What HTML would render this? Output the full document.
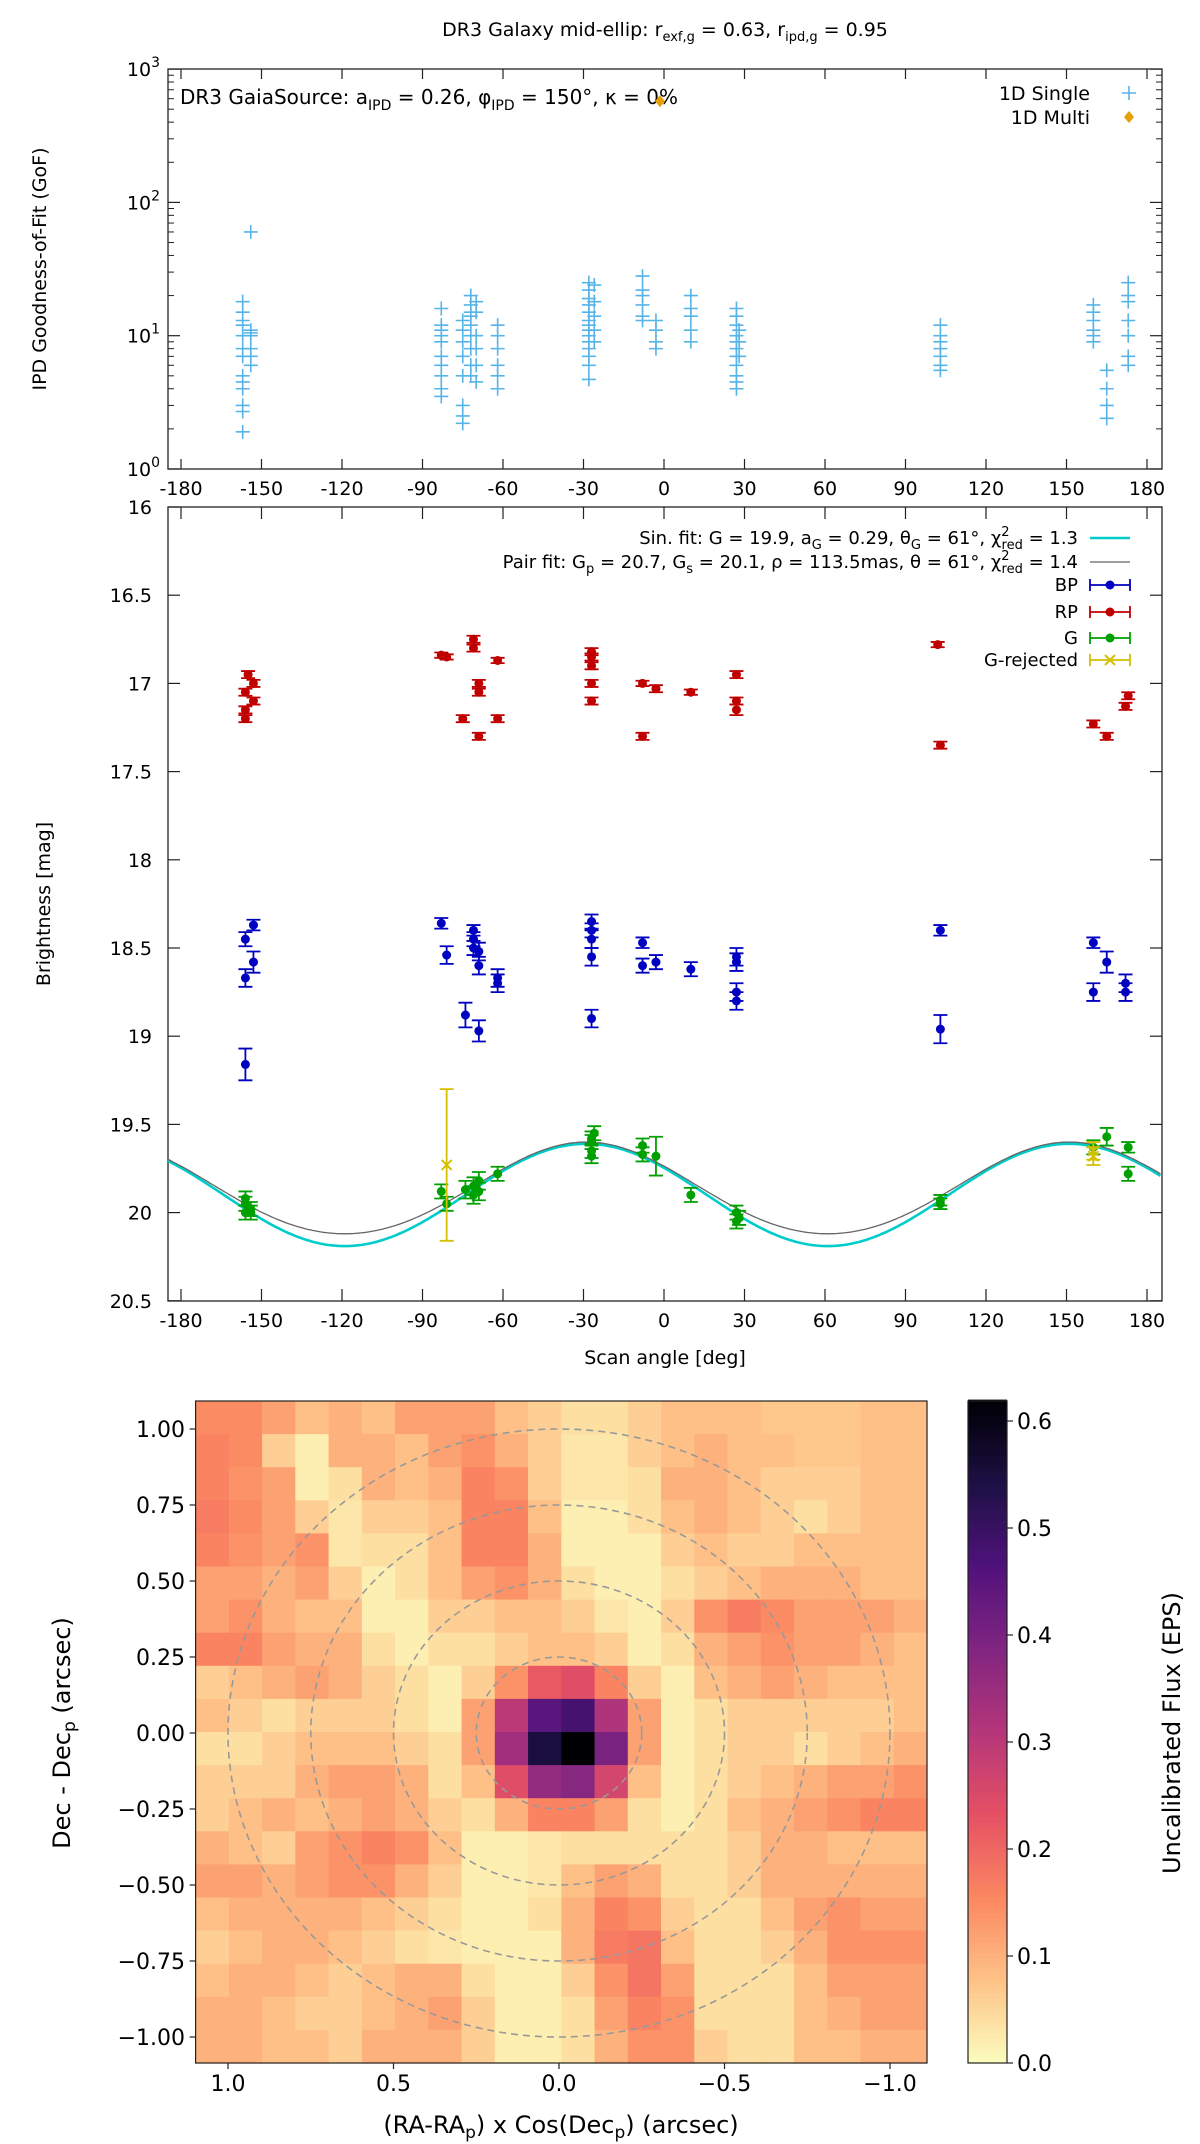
<!DOCTYPE html>
<html><head><meta charset="utf-8"><style>
html,body{margin:0;padding:0;background:#fff;}
svg{display:block;font-family:"DejaVu Sans","Liberation Sans",sans-serif;}
</style></head><body>
<svg id="fig" width="1200" height="2144" viewBox="0 0 1200 2144" xmlns="http://www.w3.org/2000/svg">
<text x="665" y="36" font-size="19" text-anchor="middle">DR3 Galaxy mid-ellip: r<tspan font-size="13" dy="5">exf,g</tspan><tspan dy="-5"> = 0.63, r</tspan><tspan font-size="13" dy="5">ipd,g</tspan><tspan dy="-5"> = 0.95</tspan></text>
<g id="p1"></g>
<g id="p2"></g>
<g id="p3"></g>
</svg>
<script>
// ---------- Panel 1 data (IPD GoF) ----------
const gofAngle = [-157,-157,-157,-157,-157,-157,-157,-157,-157,-157,-157,-157,-157,
 -154,-154,-154,-154,-154,-154,-154,
 -83,-83,-83,-83,-83,-83,-83,-83,-83,-83,
 -75,-75,-75,-75,-75,-75,-75,-75,
 -72,-72,-72,-72,-72,-72,-72,-72,-72,
 -70,-70,-70,-70,-70,-70,
 -62,-62,-62,-62,-62,-62,
 -28,-28,-28,-28,-28,-28,-28,-28,-28,-28,-28,-28,-28,-28,
 -26,-26,-26,-26,-26,
 -8,-8,-8,-8,-8,-8,
 -3,-3,-3,-3,
 10,10,10,10,10,
 27,27,27,27,27,27,27,27,27,27,27,
 28,28,28,
 103,103,103,103,103,103,103,
 160,160,160,160,160,160,
 165,165,165,165,
 173,173,173,173,173,173,173];
const gofValue = [18,15,13,12,10,8,7,5,4.5,4,3,2.7,1.9,
 60,11,10.5,10,8,7,6,
 16,12,11,10,9,7,6,5,4,3.5,
 13,11,9,7,5,3,2.5,2.2,
 20,17,15,14,12,10,8,6,5,
 18,15,10,8,6,4.5,
 12,10,8,6,5,4,
 25,22,19,17,15,13,12,11,10,9,8,7,6,4.7,
 24,18,14,11,9,
 28,22,20,17,14,13,
 13,11,9,8,
 20,16,14,11,9,
 16,14,12,10,9,8,7,6,5,4.5,4,
 11,9,7,
 12,10,9,8,7,6,5.5,
 17,15,13,11,10,9,
 5.5,4,3,2.4,
 25,20,18,13,10,7,6];
const multiAngle = [-1.5];
const multiValue = [575];
const xTicks = [-180,-150,-120,-90,-60,-30,0,30,60,90,120,150,180];
const gofDecades = [0,1,2,3];
// ---------- Panel 2 data (brightness) ----------
const rpAngle = [-156,-156,-156,-155,-153,-153,-83,-81,-75,-71,-71,-69,-69,-69,-62,-62,-27,-27,-27,-27,-27,-8,-8,-3,10,27,27,27,102,103,160,165,172,173];
const rpMag   = [17.05,17.15,17.2,16.95,17.0,17.1,16.84,16.85,17.2,16.75,16.8,17.0,17.05,17.3,16.87,17.2,16.82,16.85,16.9,17.0,17.1,17.0,17.3,17.03,17.05,16.95,17.1,17.15,16.78,17.35,17.23,17.3,17.13,17.07];
const rpErr   = [0.02,0.02,0.02,0.02,0.02,0.02,0.015,0.015,0.02,0.02,0.02,0.02,0.02,0.02,0.015,0.02,0.02,0.02,0.02,0.02,0.02,0.015,0.02,0.02,0.015,0.02,0.02,0.03,0.015,0.02,0.02,0.02,0.02,0.02];
const bpAngle = [-156,-156,-156,-153,-153,-83,-81,-74,-71,-71,-71,-69,-69,-69,-62,-62,-27,-27,-27,-27,-27,-8,-8,-3,10,27,27,27,27,103,103,160,160,165,172,172];
const bpMag   = [18.45,18.67,19.16,18.37,18.58,18.36,18.54,18.88,18.4,18.45,18.5,18.52,18.6,18.97,18.67,18.7,18.35,18.4,18.45,18.55,18.9,18.47,18.6,18.58,18.62,18.55,18.58,18.75,18.8,18.4,18.96,18.47,18.75,18.58,18.7,18.75];
const bpErr   = [0.04,0.05,0.09,0.03,0.06,0.03,0.05,0.07,0.03,0.04,0.04,0.05,0.05,0.06,0.05,0.05,0.04,0.04,0.05,0.05,0.05,0.03,0.04,0.04,0.04,0.05,0.05,0.05,0.05,0.03,0.08,0.03,0.05,0.06,0.05,0.05];
const gAngle = [-156,-156,-156,-154,-154,-83,-81,-74,-71,-71,-69,-69,-62,-27,-27,-27,-27,-26,-8,-8,-3,10,27,27,28,103,103,160,165,173,173];
const gMag   = [19.92,19.95,20.0,19.98,20.0,19.88,19.95,19.87,19.85,19.9,19.82,19.88,19.78,19.58,19.6,19.65,19.68,19.55,19.62,19.67,19.68,19.9,20.0,20.05,20.03,19.93,19.95,19.63,19.57,19.63,19.78];
const gErr   = [0.04,0.04,0.04,0.04,0.04,0.04,0.04,0.05,0.05,0.05,0.05,0.05,0.04,0.04,0.04,0.04,0.04,0.04,0.04,0.04,0.11,0.04,0.04,0.04,0.04,0.03,0.03,0.04,0.05,0.03,0.04];
const grAngle = [-81,160,160];
const grMag   = [19.73,19.65,19.68];
const grErr   = [0.43,0.05,0.05];
const magTicks = [16,16.5,17,17.5,18,18.5,19,19.5,20,20.5];
const sinParams = [19.9,0.29,61];      // G, a_G, theta_G
const pairParams = [19.87,0.26,0.01,61];
// ---------- Panel 3 data (heatmap, flux x100) ----------
const fluxRows = [
 [15,15,12,8,10,8,12,12,12,8,6,4,4,6,8,8,8,7,7,7,8,8],
 [16,15,6,2,10,10,8,12,14,10,6,3,3,6,8,10,8,8,7,7,8,8],
 [16,14,12,2,4,10,8,10,16,14,6,3,3,4,10,10,8,6,6,6,8,8],
 [17,15,12,6,3,6,6,8,16,16,8,2,2,4,8,10,8,6,4,6,8,8],
 [16,14,12,14,3,4,4,8,16,16,10,2,2,2,6,8,6,6,8,8,8,8],
 [12,12,10,12,6,2,4,8,12,14,10,4,2,2,4,6,8,10,10,10,8,8],
 [12,14,10,8,8,2,2,6,6,8,8,6,3,2,6,14,17,15,12,12,12,10],
 [16,16,12,10,10,4,2,4,4,6,8,8,6,2,4,10,12,14,12,12,10,8],
 [6,8,10,12,10,6,4,2,6,14,22,24,16,6,2,8,10,12,10,8,8,8],
 [8,6,4,6,6,6,4,2,12,30,45,48,32,12,2,4,6,6,6,6,6,8],
 [4,4,6,8,8,8,6,4,12,34,55,62,40,12,2,4,6,6,4,6,8,10],
 [6,6,6,10,12,12,10,4,8,24,36,38,26,8,2,4,6,8,10,12,12,14],
 [6,8,10,8,10,12,10,6,4,10,16,16,12,4,2,4,8,10,12,14,16,16],
 [10,8,6,12,14,16,14,8,2,2,3,4,4,4,4,4,6,10,10,8,8,8],
 [12,12,10,12,14,14,10,6,2,2,3,8,12,10,4,4,6,10,10,10,10,10],
 [8,10,10,10,10,8,6,4,2,2,4,10,16,14,6,4,4,8,12,14,12,12],
 [6,8,10,10,8,6,4,3,2,2,2,10,17,18,8,4,4,6,10,14,14,14],
 [8,10,10,8,6,8,10,10,4,2,2,6,14,18,12,4,4,4,8,12,12,12],
 [10,10,8,6,6,8,10,12,6,2,2,4,12,16,14,4,4,4,8,10,12,12],
 [10,10,8,8,6,10,10,10,6,2,2,4,10,14,14,6,4,4,8,8,10,10]];
const hxTicks = [1.0,0.5,0.0,-0.5,-1.0];
const hxLabels = ["1.0","0.5","0.0","\u22120.5","\u22121.0"];
const hyTicks = [1.0,0.75,0.5,0.25,0,-0.25,-0.5,-0.75,-1.0];
const hyLabels = ["1.00","0.75","0.50","0.25","0.00","\u22120.25","\u22120.50","\u22120.75","\u22121.00"];
const cbTicks = [0,0.1,0.2,0.3,0.4,0.5,0.6];
const ringRadii = [0.25,0.5,0.75,1.0];

const NS="http://www.w3.org/2000/svg";
function mk(parent,tag,attrs,text){const e=document.createElementNS(NS,tag);for(const k in attrs)e.setAttribute(k,attrs[k]);if(text!==undefined)e.textContent=text;parent.appendChild(e);return e;}

const X0=181, XS=966/360;
const xA=a=>X0+(a+180)*XS;
const yG=v=>469-Math.log10(v)*133.3;
const yM=m=>507+(m-16)*176.4;

// ===== Panel 1 =====
const p1=document.getElementById('p1');
let r=mk(p1,'rect',{x:168,y:69,width:994,height:400,fill:'none',stroke:'#222','stroke-width':1.3});


xTicks.forEach(t=>{
 const x=xA(t);
 let l=mk(p1,'line',{x1:x,x2:x,y1:469,y2:459,stroke:'#222','stroke-width':1.2});
 
 
 mk(p1,'line',{x1:x,x2:x,y1:69,y2:79,stroke:'#222','stroke-width':1.2});
 let tx=mk(p1,'text',{x:x,y:495,'font-size':19,'text-anchor':'middle'},String(t));
 
 
});
gofDecades.forEach(d=>{
 const y=yG(Math.pow(10,d));
 mk(p1,'line',{x1:168,x2:180,y1:y,y2:y,stroke:'#222','stroke-width':1.2});
 mk(p1,'line',{x1:1162,x2:1150,y1:y,y2:y,stroke:'#222','stroke-width':1.2});
 if(d<3){for(let k=2;k<10;k++){const yy=yG(k*Math.pow(10,d));mk(p1,'line',{x1:168,x2:174,y1:yy,y2:yy,stroke:'#222','stroke-width':1});mk(p1,'line',{x1:1162,x2:1156,y1:yy,y2:yy,stroke:'#222','stroke-width':1});}}
 const t=mk(p1,'text',{x:160,y:y+7,'font-size':19,'text-anchor':'end'});
 
 
 mk(t,'tspan',{},'10');mk(t,'tspan',{dy:-9,'font-size':14},String(d));
});
let yl=mk(p1,'text',{transform:'translate(46,269) rotate(-90)','font-size':19,'text-anchor':'middle'},'IPD Goodness-of-Fit (GoF)');


let ann=mk(p1,'text',{x:180,y:104,'font-size':20});


ann.innerHTML='DR3 GaiaSource: a<tspan font-size="14" dy="6">IPD</tspan><tspan dy="-6"> = 0.26, φ</tspan><tspan font-size="14" dy="6">IPD</tspan><tspan dy="-6"> = 150°, κ = 0%</tspan>';
function plus(g,x,y,s,c){mk(g,'path',{d:`M${x-s},${y}H${x+s}M${x},${y-s}V${y+s}`,stroke:c,'stroke-width':1.6,fill:'none'});}
const gp=mk(p1,'g',{});


gofAngle.forEach((a,i)=>plus(gp,xA(a),yG(gofValue[i]),7,'#56b4e9'));
multiAngle.forEach((a,i)=>{const x=xA(a),y=yG(multiValue[i]);let d=mk(p1,'path',{d:`M${x},${y-6}L${x+5},${y}L${x},${y+6}L${x-5},${y}Z`,fill:'#e69f00'});
 
 });
let le1=mk(p1,'text',{x:1090,y:100,'font-size':19,'text-anchor':'end'},'1D Single');


plus(p1,1129,93,7,'#56b4e9');
let le2=mk(p1,'text',{x:1090,y:124,'font-size':19,'text-anchor':'end'},'1D Multi');


mk(p1,'path',{d:'M1129,111L1134,117L1129,123L1124,117Z',fill:'#e69f00'});

// ===== Panel 2 =====
const p2=document.getElementById('p2');
r=mk(p2,'rect',{x:168,y:507,width:994,height:794,fill:'none',stroke:'#222','stroke-width':1.3});


xTicks.forEach(t=>{const x=xA(t);
 mk(p2,'line',{x1:x,x2:x,y1:1301,y2:1289,stroke:'#222','stroke-width':1.2});
 mk(p2,'line',{x1:x,x2:x,y1:507,y2:519,stroke:'#222','stroke-width':1.2});
 let tx=mk(p2,'text',{x:x,y:1327,'font-size':19,'text-anchor':'middle'},String(t));
 
 });
magTicks.forEach(m=>{const y=yM(m);
 mk(p2,'line',{x1:168,x2:180,y1:y,y2:y,stroke:'#222','stroke-width':1.2});
 mk(p2,'line',{x1:1162,x2:1150,y1:y,y2:y,stroke:'#222','stroke-width':1.2});
 let tx=mk(p2,'text',{x:152,y:y+7,'font-size':19,'text-anchor':'end'},String(m));
 
 });
yl=mk(p2,'text',{transform:'translate(50,904) rotate(-90)','font-size':19,'text-anchor':'middle'},'Brightness [mag]');


let xl=mk(p2,'text',{x:665,y:1364,'font-size':19,'text-anchor':'middle'},'Scan angle [deg]');


function curve(fn){let d='';for(let a=-185;a<=185.5;a+=1){const x=Math.max(168,Math.min(1162,xA(a)));d+=(d?'L':'M')+x.toFixed(1)+','+yM(fn(a)).toFixed(1);}return d;}
const rad=Math.PI/180;
let c1=mk(p2,'path',{d:curve(a=>sinParams[0]+sinParams[1]*Math.cos(2*(a-sinParams[2])*rad)),fill:'none',stroke:'#00cccc','stroke-width':2.6});


let c2=mk(p2,'path',{d:curve(a=>pairParams[0]+pairParams[1]*Math.cos(2*(a-pairParams[3])*rad)-pairParams[2]*Math.cos(4*(a-pairParams[3])*rad)),fill:'none',stroke:'#666','stroke-width':1.3});


function ebar(g,x,y,y1,y2,c,cap){mk(g,'path',{d:`M${x},${y1}V${y2}M${x-cap},${y1}H${x+cap}M${x-cap},${y2}H${x+cap}`,stroke:c,'stroke-width':1.8,fill:'none'});}
function series(name,A,M,E,c,cross){const g=mk(p2,'g',{});
 
 
 A.forEach((a,i)=>{const x=xA(a),y=yM(M[i]);ebar(g,x,y,yM(M[i]-E[i]),yM(M[i]+E[i]),c,7);
  if(cross)mk(g,'path',{d:`M${x-5},${y-5}L${x+5},${y+5}M${x-5},${y+5}L${x+5},${y-5}`,stroke:c,'stroke-width':2});
  else mk(g,'circle',{cx:x,cy:y,r:4.5,fill:c});});}
series('rp-points',rpAngle,rpMag,rpErr,'#c00000',false);
series('bp-points',bpAngle,bpMag,bpErr,'#0000c0',false);
series('g-points',gAngle,gMag,gErr,'#00a000',false);
series('g-rejected-points',grAngle,grMag,grErr,'#d4c000',true);
const lg=mk(p2,'g',{});


const lRows=[['Sin. fit: G = 19.9, a<tspan font-size="13" dy="5">G</tspan><tspan dy="-5"> = 0.29, θ</tspan><tspan font-size="13" dy="5">G</tspan><tspan dy="-5"> = 61°, χ</tspan><tspan font-size="13" dy="-8">2</tspan><tspan font-size="13" dx="-8" dy="13">red</tspan><tspan dy="-5"> =   1.3</tspan>',538,'line','#00cccc'],
 ['Pair fit: G<tspan font-size="13" dy="5">p</tspan><tspan dy="-5"> = 20.7, G</tspan><tspan font-size="13" dy="5">s</tspan><tspan dy="-5"> = 20.1, ρ = 113.5mas, θ = 61°, χ</tspan><tspan font-size="13" dy="-8">2</tspan><tspan font-size="13" dx="-8" dy="13">red</tspan><tspan dy="-5"> =   1.4</tspan>',562,'line2','#666'],
 ['BP',585,'dot','#0000c0'],['RP',612,'dot','#c00000'],['G',638,'dot','#00a000'],['G-rejected',660,'x','#d4c000']];
lRows.forEach(([t,y,k,c])=>{const tx=mk(lg,'text',{x:1078,y:y+6,'font-size':18,'text-anchor':'end'});tx.innerHTML=t;
 if(k==='line')mk(lg,'line',{x1:1090,x2:1130,y1:y,y2:y,stroke:c,'stroke-width':2.6});
 else if(k==='line2')mk(lg,'line',{x1:1090,x2:1130,y1:y,y2:y,stroke:c,'stroke-width':1.3});
 else{mk(lg,'path',{d:`M1090,${y}H1130M1090,${y-6}V${y+6}M1130,${y-6}V${y+6}`,stroke:c,'stroke-width':1.8,fill:'none'});
  if(k==='dot')mk(lg,'circle',{cx:1110,cy:y,r:4.5,fill:c});else mk(lg,'path',{d:`M1105,${y-5}L1115,${y+5}M1105,${y+5}L1115,${y-5}`,stroke:c,'stroke-width':2});}});

// ===== Panel 3 heatmap =====
const p3=document.getElementById('p3');
const HX0=195.6,HY0=1401,HW=731.4,HH=662;
const hx=u=>559-u*331, hy=v=>1733-v*304;
const magma=[[0,0,4],[28,16,68],[79,18,123],[129,37,129],[181,54,122],[229,80,100],[251,135,97],[254,194,135],[252,253,191]];
function cmap(v){let t=1-Math.min(1,Math.max(0,v/0.62));t*=8;const i=Math.min(7,Math.floor(t)),f=t-i;const a=magma[i],b=magma[i+1];return `rgb(${Math.round(a[0]+(b[0]-a[0])*f)},${Math.round(a[1]+(b[1]-a[1])*f)},${Math.round(a[2]+(b[2]-a[2])*f)})`;}
const hg=mk(p3,'g',{});


const nR=fluxRows.length,nC=fluxRows[0].length,cw=HW/nC,ch=HH/nR;
fluxRows.forEach((row,i)=>row.forEach((v,j)=>{mk(hg,'rect',{x:(HX0+j*cw).toFixed(2),y:(HY0+i*ch).toFixed(2),width:(cw+0.6).toFixed(2),height:(ch+0.6).toFixed(2),fill:cmap(v/100)});}));
ringRadii.forEach(rr=>{let e=mk(p3,'ellipse',{cx:hx(0),cy:hy(0),rx:rr*331,ry:rr*304,fill:'none',stroke:'#999','stroke-width':1.6,'stroke-dasharray':'7,5'});
 
 });
r=mk(p3,'rect',{x:HX0,y:HY0,width:HW,height:HH,fill:'none',stroke:'#222','stroke-width':1.2});


hxTicks.forEach((u,i)=>{const x=hx(u);mk(p3,'line',{x1:x,x2:x,y1:HY0+HH,y2:HY0+HH+6,stroke:'#222','stroke-width':1.2});
 let tx=mk(p3,'text',{x:x,y:2091,'font-size':22,'text-anchor':'middle'},hxLabels[i]);
 
 });
hyTicks.forEach((v,i)=>{const y=hy(v);mk(p3,'line',{x1:HX0,x2:HX0-6,y1:y,y2:y,stroke:'#222','stroke-width':1.2});
 let tx=mk(p3,'text',{x:185,y:y+8,'font-size':22,'text-anchor':'end'},hyLabels[i]);
 
 });
xl=mk(p3,'text',{x:561,y:2133,'font-size':24,'text-anchor':'middle'});


xl.innerHTML='(RA-RA<tspan font-size="17" dy="5">p</tspan><tspan dy="-5">) x Cos(Dec</tspan><tspan font-size="17" dy="5">p</tspan><tspan dy="-5">) (arcsec)</tspan>';
yl=mk(p3,'text',{transform:'translate(70,1733) rotate(-90)','font-size':24,'text-anchor':'middle'});


yl.innerHTML='Dec - Dec<tspan font-size="17" dy="5">p</tspan><tspan dy="-5"> (arcsec)</tspan>';
const cb=mk(p3,'g',{});


const cy=v=>2063-v*1070;
for(let k=0;k<132;k++){const v0=k*0.62/132;mk(cb,'rect',{x:968,y:cy(v0+0.62/132).toFixed(2),width:39,height:(0.62/132*1070+0.6).toFixed(2),fill:cmap(v0+0.31/132)});}
mk(cb,'rect',{x:968,y:HY0,width:39,height:HH,fill:'none',stroke:'#222','stroke-width':1.2});
cbTicks.forEach(v=>{const y=cy(v);mk(cb,'line',{x1:1007,x2:1013,y1:y,y2:y,stroke:'#222','stroke-width':1.2});
 let tx=mk(cb,'text',{x:1017,y:y+8,'font-size':22},v.toFixed(1));
 
 });
let cl=mk(p3,'text',{transform:'translate(1180,1733) rotate(-90)','font-size':24,'text-anchor':'middle'},'Uncalibrated Flux (EPS)');


</script>
</body></html>
